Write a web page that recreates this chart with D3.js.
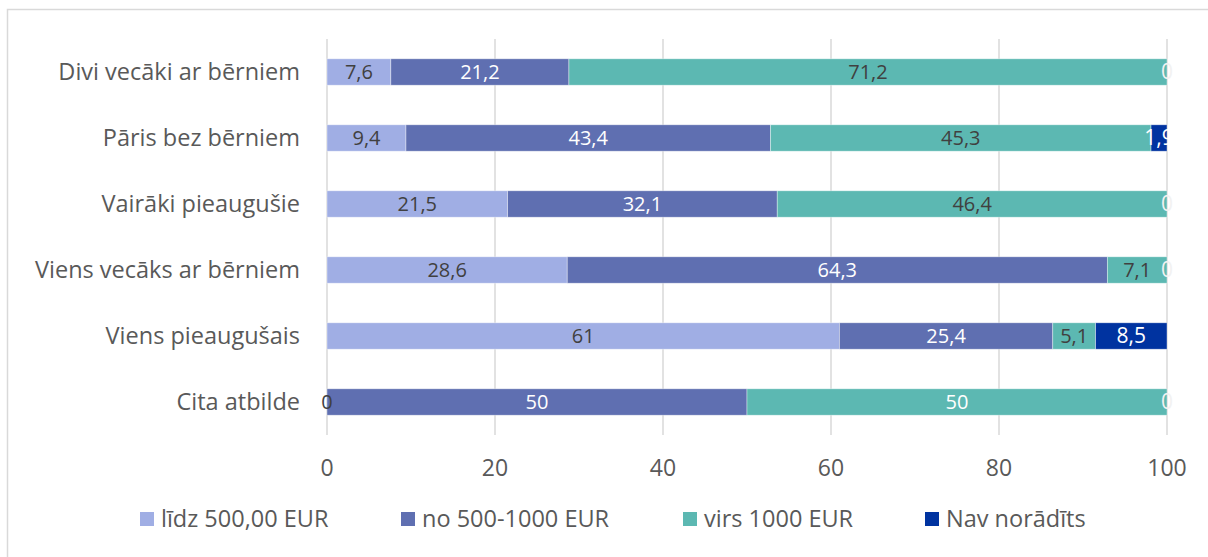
<!doctype html>
<html>
<head>
<meta charset="utf-8">
<script src="https://cdn.jsdelivr.net/npm/d3@7"></script>
<style>
  body { margin: 0; background: #fff; }
  svg { font-family: "Open Sans", sans-serif; }
</style>
</head>
<body>
<script>
var categories = ["Divi vecāki ar bērniem", "Pāris bez bērniem", "Vairāki pieaugušie",
                  "Viens vecāks ar bērniem", "Viens pieaugušais", "Cita atbilde"];
var seriesNames = ["līdz 500,00 EUR", "no 500-1000 EUR", "virs 1000 EUR", "Nav norādīts"];
var lidz500 = [7.6, 9.4, 21.5, 28.6, 61, 0];
var no500 = [21.2, 43.4, 32.1, 64.3, 25.4, 50];
var virs1000 = [71.2, 45.3, 46.4, 7.1, 5.1, 50];
var navNoradits = [0, 1.9, 0, 0, 8.5, 0];
var xTicks = [0, 20, 40, 60, 80, 100];

var colors = ["#a0aee4", "#5f6fb1", "#5cb8b2", "#0033a0"];
var labelColors = ["#404040", "#ffffff", "#404040", "#ffffff"];

var width = 1208, height = 557;
var svg = d3.select("body").append("svg").attr("width", width).attr("height", height);

// outer frame
svg.append("rect").attr("x", 7.5).attr("y", 9.5).attr("width", 1300).attr("height", 700)
  .attr("fill", "none").attr("stroke", "#d9d9d9").attr("stroke-width", 1.5);

var x = d3.scaleLinear().domain([0, 100]).range([327, 1167]);
var y = d3.scaleBand().domain(categories).range([39, 435]).paddingInner(0.6).paddingOuter(0.3);

var rows = categories.map(function (c, i) {
  return { cat: c, v: [lidz500[i], no500[i], virs1000[i], navNoradits[i]] };
});
var stack = d3.stack().keys([0, 1, 2, 3]).value(function (d, k) { return d.v[k]; });
var layers = stack(rows);

// grid
svg.append("g").selectAll("line").data(xTicks).enter().append("line")
  .attr("x1", function (d) { return x(d); }).attr("x2", function (d) { return x(d); })
  .attr("y1", 39).attr("y2", 435)
  .attr("stroke", "#d9d9d9").attr("stroke-width", 1.5);

// bars
var g = svg.append("g").selectAll("g").data(layers).enter().append("g")
  .attr("fill", function (d, i) { return colors[i]; });
g.selectAll("rect").data(function (d) { return d; }).enter().append("rect")
  .attr("x", function (d) { return x(d[0]); })
  .attr("width", function (d) { return x(d[1]) - x(d[0]); })
  .attr("y", function (d) { return y(d.data.cat); })
  .attr("height", y.bandwidth())
  .attr("stroke", "#ffffff").attr("stroke-opacity", 0.5).attr("stroke-width", 0.75);

// data labels
var fmt = function (v) { return String(v).replace(".", ","); };
layers.forEach(function (layer, i) {
  svg.append("g").selectAll("text").data(layer).enter().append("text")
    .attr("x", function (d) { return x((d[0] + d[1]) / 2); })
    .attr("y", function (d) { return y(d.data.cat) + y.bandwidth() / 2; })
    .attr("dy", "0.35em")
    .attr("text-anchor", "middle")
    .attr("font-size", i === 3 ? 21 : 20)
    .attr("fill", function (d) {
      if (d[1] - d[0] === 0 && i === 3) return "#f2f2f2";
      if (i === 2 && d.data.cat === "Cita atbilde") return "#ffffff";
      return labelColors[i];
    })
    .text(function (d) { return fmt(d.data.v[i]); });
});

// category labels
svg.append("g").selectAll("text").data(categories).enter().append("text")
  .attr("x", 300).attr("y", function (d) { return y(d) + y.bandwidth() / 2; })
  .attr("dy", "0.35em").attr("text-anchor", "end")
  .attr("font-size", 23.5).attr("fill", "#595959")
  .text(function (d) { return d; });

// x tick labels
svg.append("g").selectAll("text").data(xTicks).enter().append("text")
  .attr("x", function (d) { return x(d); }).attr("y", 468)
  .attr("dy", "0.35em").attr("text-anchor", "middle")
  .attr("font-size", 23).attr("fill", "#595959")
  .text(function (d) { return d; });

// legend
var legendX = [140, 401, 683, 925];
var lg = svg.append("g").selectAll("g").data(seriesNames).enter().append("g")
  .attr("transform", function (d, i) { return "translate(" + legendX[i] + ",519)"; });
lg.append("rect").attr("x", 0).attr("y", -7).attr("width", 14).attr("height", 14)
  .attr("fill", function (d, i) { return colors[i]; });
lg.append("text").attr("x", 21).attr("dy", "0.35em")
  .attr("font-size", 23.5).attr("fill", "#595959")
  .text(function (d) { return d; });
</script>
</body>
</html>
